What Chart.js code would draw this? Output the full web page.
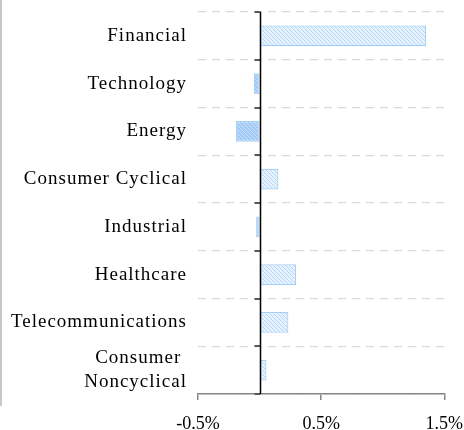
<!DOCTYPE html>
<html>
<head>
<meta charset="utf-8">
<script src="https://cdnjs.cloudflare.com/ajax/libs/Chart.js/4.4.1/chart.umd.min.js"></script>
<style>
html,body{margin:0;padding:0;background:#fff;}
#wrap{position:relative;width:464px;height:430px;overflow:hidden;}
#edge{position:absolute;left:0;top:0;width:2px;height:406px;background:#c8c8c8;}
canvas{position:absolute;left:0;top:0;}
</style>
</head>
<body>
<div id="wrap">
<canvas id="chart" width="476" height="452"></canvas>
<div id="edge"></div>
</div>
<script>
const categories=['Financial','Technology','Energy','Consumer Cyclical','Industrial','Healthcare','Telecommunications',['Consumer ','Noncyclical']]
const returns=[1.352,-0.047,-0.192,0.153,-0.028,0.296,0.234,0.056]
const xTicks=[-0.5,0.5,1.5]

function hatch(bg,line){
const c=document.createElement('canvas')
c.width=4;c.height=4
const g=c.getContext('2d')
g.fillStyle=bg;g.fillRect(0,0,4,4)
g.strokeStyle=line;g.lineWidth=1
g.beginPath()
g.moveTo(0,0);g.lineTo(4,4)
g.moveTo(-1,3);g.lineTo(1,5)
g.moveTo(3,-1);g.lineTo(5,1)
g.stroke()
return g.createPattern(c,'repeat')
}
const posFill=hatch('#e6f2fe','#b5d6f8')
const negFill=hatch('#a3cbf5','#c6e0fa')

// zero line + small ticks where the category boundaries meet it
// also: wide letter spacing for the category names only
const zeroAxis={
id:'zeroAxis',
beforeDraw(chart){chart.ctx.letterSpacing='1px'},
beforeDatasetsDraw(chart){chart.ctx.letterSpacing='0px'},
afterDatasetsDraw(chart){
const ctx=chart.ctx,x=chart.scales.x,y=chart.scales.y,a=chart.chartArea
const x0=Math.round(x.getPixelForValue(0))+0.5
ctx.save()
ctx.strokeStyle='#595959';ctx.lineWidth=2
for(let i=0;i<=categories.length;i++){
const yy=Math.round(y.getPixelForValue(i-0.5))
ctx.beginPath();ctx.moveTo(x0-6,yy);ctx.lineTo(x0,yy);ctx.stroke()
}
ctx.strokeStyle='#000';ctx.lineWidth=1.5
ctx.beginPath();ctx.moveTo(x0,a.top);ctx.lineTo(x0,a.bottom);ctx.stroke()
ctx.restore()
}
}

new Chart(document.getElementById('chart'),{
type:'bar',
data:{
labels:categories,
datasets:[{
data:returns,
backgroundColor:returns.map(v=>v<0?negFill:posFill),
borderColor:'#a8cff6',
borderWidth:1.2,
borderSkipped:false,
categoryPercentage:1,
barPercentage:0.43
}]
},
options:{
indexAxis:'y',
responsive:false,
animation:false,
layout:{padding:{top:12,right:31,bottom:4.4,left:0}},
plugins:{legend:{display:false},tooltip:{enabled:false}},
scales:{
x:{
min:-0.5,max:1.5,
afterBuildTicks(s){s.ticks=xTicks.map(v=>({value:v}))},
grid:{drawOnChartArea:false,color:'#868686',tickLength:6,lineWidth:1.5},
border:{color:'#868686',width:1.5},
ticks:{z:1,color:'#000',padding:13,maxRotation:0,autoSkip:false,font:{family:'Liberation Serif',size:18},callback:v=>v+'%'}
},
y:{
afterFit(s){s.width=198;s.paddingTop=0;s.paddingBottom=0},
grid:{color:'#d9d9d9',lineWidth:1.2,drawTicks:false},
border:{display:false,dash:[8,6]},
ticks:{autoSkip:false,color:'#000',padding:11,font:{family:'Liberation Serif',size:19,lineHeight:1.3}}
}
}
},
plugins:[zeroAxis]
})
</script>
</body>
</html>
